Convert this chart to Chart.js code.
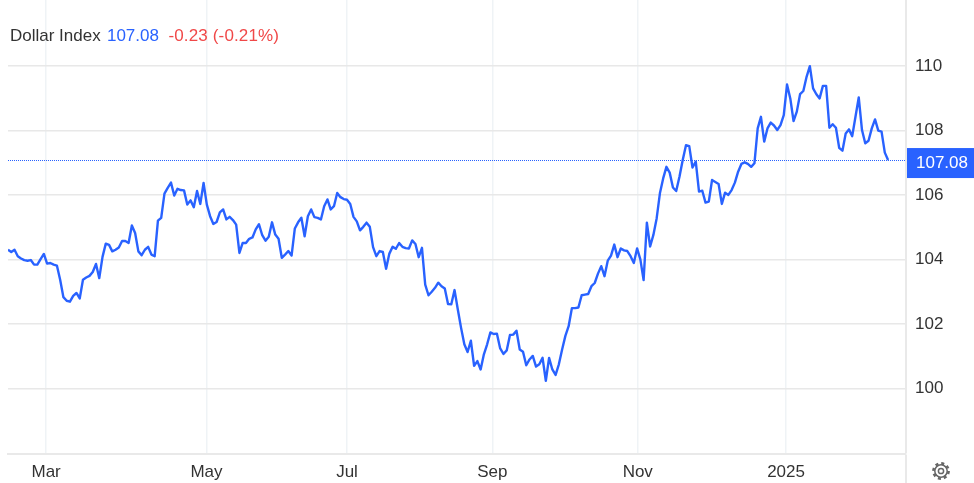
<!DOCTYPE html>
<html lang="en">
  <head>
    <meta charset="utf-8" />
    <title>Dollar Index</title>
    <style>
      * {
        margin: 0;
        padding: 0;
        font-family: "Liberation Sans", sans-serif;
      }
      body {
        background: white;
        overflow: hidden;
      }
      .chartBox {
        position: relative;
        width: 974px;
        height: 483px;
      }
      .header {
        position: absolute;
        left: 10px;
        top: 26px;
        font-size: 17px;
        line-height: 20px;
        white-space: pre;
        color: #333;
      }
      .last {
        color: #2962ff;
        margin-left: 1.5px;
      }
      .change {
        color: #f04848;
        letter-spacing: 0.15px;
      }
      .gear {
        position: absolute;
        left: 931px;
        top: 461px;
      }
    </style>
  </head>
  <body>
    <div class="chartBox">
      <canvas id="myChart" width="974" height="483"></canvas>
      <div class="header">Dollar Index <span class="last">107.08</span>  <span class="change">-0.23 (-0.21%)</span></div>
      <svg class="gear" width="20" height="20" viewBox="0 0 20 20" fill="none" stroke="#666">
        <circle cx="10" cy="10" r="6.2" stroke-width="1.5" />
        <circle cx="10" cy="10" r="7.6" stroke-width="2.6" stroke-dasharray="3 2.97" />
        <circle cx="10" cy="10" r="2.6" stroke-width="1.5" />
      </svg>
    </div>

    <script src="https://cdn.jsdelivr.net/npm/chart.js"></script>

    <script>
      // one value per trading day
      const dollarIndex = [
        104.30, 104.23, 104.30, 104.10, 104.03, 103.98, 103.96, 103.98, 103.84, 103.84,
        104.01, 104.17, 103.87, 103.89, 103.84, 103.81, 103.37, 102.83, 102.72, 102.69,
        102.87, 102.96, 102.79, 103.37, 103.44, 103.49, 103.61, 103.86, 103.42, 104.08,
        104.49, 104.45, 104.25, 104.30, 104.37, 104.57, 104.57, 104.51, 105.05, 104.82,
        104.25, 104.13, 104.30, 104.39, 104.15, 104.10, 105.20, 105.29, 106.04, 106.22,
        106.38, 105.98, 106.19, 106.15, 106.14, 105.70, 105.83, 105.62, 106.12, 105.72,
        106.37, 105.70, 105.34, 105.10, 105.16, 105.46, 105.55, 105.24, 105.32, 105.22,
        105.08, 104.20, 104.51, 104.51, 104.64, 104.68, 104.93, 105.09, 104.75, 104.58,
        104.70, 105.15, 104.77, 104.64, 104.05, 104.15, 104.26, 104.12, 104.96, 105.15,
        105.29, 104.72, 105.34, 105.55, 105.31, 105.29, 105.24, 105.65, 105.86, 105.55,
        105.65, 106.06, 105.93, 105.87, 105.85, 105.72, 105.32, 105.18, 104.90, 105.01,
        105.14, 105.01, 104.38, 104.10, 104.26, 104.23, 103.71, 104.18, 104.39, 104.33,
        104.51, 104.39, 104.35, 104.34, 104.59, 104.48, 104.07, 104.36, 103.22, 102.89,
        103.00, 103.12, 103.28, 103.17, 103.10, 102.62, 102.61, 103.05, 102.45, 101.88,
        101.37, 101.13, 101.48, 100.70, 100.85, 100.59, 101.06, 101.37, 101.74, 101.69,
        101.70, 101.24, 101.07, 101.18, 101.66, 101.67, 101.79, 101.21, 101.14, 100.72,
        100.90, 101.01, 100.68, 100.75, 100.95, 100.24, 100.95, 100.59, 100.42, 100.75,
        101.21, 101.63, 101.93, 102.49, 102.49, 102.51, 102.89, 102.91, 102.93, 103.17,
        103.27, 103.56, 103.79, 103.48, 103.96, 104.12, 104.46, 104.07, 104.34, 104.28,
        104.26, 104.10, 103.89, 104.34, 104.00, 103.36, 105.14, 104.40, 104.76, 105.27,
        106.05, 106.51, 106.87, 106.69, 106.23, 106.12, 106.56, 107.08, 107.54, 107.51,
        106.85, 107.03, 106.10, 106.13, 105.76, 105.79, 106.46, 106.40, 106.34, 105.72,
        106.07, 106.00, 106.15, 106.38, 106.72, 106.96, 107.01, 106.96, 106.87, 106.98,
        108.06, 108.42, 107.65, 108.06, 108.24, 108.15, 108.01, 108.16, 108.47, 109.42,
        108.99, 108.29, 108.58, 109.12, 109.22, 109.66, 109.99, 109.30, 109.12, 108.99,
        109.38, 109.38, 108.08, 108.19, 108.08, 107.46, 107.37, 107.90, 108.03, 107.82,
        108.42, 109.02, 108.01, 107.60, 107.68, 108.06, 108.34, 107.99, 107.96, 107.31,
        107.08,
      ];
      const lastValue = 107.08;
      const yTicks = [100, 102, 104, 106, 108, 110];
      const monthLabels = ["Mar", "May", "Jul", "Sep", "Nov", "2025"];
      // where each label falls, counted in trading days from the first point
      const monthPositions = [11.7, 60.9, 104, 148.6, 193.2, 238.7];

      const blue = "#2962ff";

      // dotted last price line and the tag on the axis
      const lastPriceTag = {
        id: "lastPriceTag",
        afterDatasetsDraw(chart) {
          const {
            ctx,
            chartArea: { left, right, bottom },
            scales: { y },
          } = chart;
          const yCoor = y.getPixelForValue(lastValue);
          ctx.save();
          // axis line runs on past the x axis
          ctx.fillStyle = "#e9e9e9";
          ctx.fillRect(right - 1, 0, 2, bottom - 1);
          ctx.fillRect(right - 1, bottom + 1, 2, chart.height - bottom);
          ctx.strokeStyle = blue;
          ctx.lineWidth = 1;
          ctx.setLineDash([1, 1]);
          ctx.beginPath();
          ctx.moveTo(left, Math.round(yCoor) + 0.5);
          ctx.lineTo(right, Math.round(yCoor) + 0.5);
          ctx.stroke();
          ctx.fillStyle = blue;
          ctx.fillRect(right + 1, yCoor - 12, chart.width - right, 30);
          ctx.fillStyle = "white";
          ctx.font = '17px "Liberation Sans"';
          ctx.textBaseline = "middle";
          ctx.fillText(lastValue.toFixed(2), right + 10, yCoor + 3.5);
          ctx.restore();
        },
      };

      // no room kept around the plot for half tick labels
      function noScalePadding(scale) {
        scale.paddingTop = 0;
        scale.paddingBottom = 0;
        scale.paddingLeft = 0;
        scale.paddingRight = 0;
      }

      const config = {
        type: "line",
        data: {
          datasets: [
            {
              data: dollarIndex.map((v, i) => ({ x: i, y: v })),
              borderColor: blue,
              borderWidth: 2.4,
              borderJoinStyle: "round",
              pointRadius: 0,
              tension: 0,
            },
          ],
        },
        options: {
          responsive: false,
          animation: false,
          events: [],
          layout: { autoPadding: false, padding: { left: 8 } },
          plugins: {
            legend: { display: false },
            title: { display: false },
            tooltip: { enabled: false },
          },
          scales: {
            x: {
              type: "linear",
              min: 0,
              max: 275.5,
              afterBuildTicks: (scale) => {
                scale.ticks = monthPositions.map((value) => ({ value }));
              },
              afterFit: (scale) => {
                scale.height = 29;
                noScalePadding(scale);
              },
              grid: { color: "#eff3f6", lineWidth: 1.5, drawTicks: false },
              border: { color: "#e9e9e9", width: 2 },
              ticks: {
                autoSkip: false,
                maxRotation: 0,
                padding: 8,
                color: "#333",
                font: { family: "Liberation Sans", size: 17 },
                callback: (value) => monthLabels[monthPositions.indexOf(value)],
              },
            },
            y: {
              position: "right",
              min: 97.97,
              max: 112.04,
              afterBuildTicks: (scale) => {
                scale.ticks = yTicks.map((value) => ({ value }));
              },
              afterFit: (scale) => {
                scale.width = 68;
                noScalePadding(scale);
              },
              grid: { color: "#e8e8e8", lineWidth: 1.5, drawTicks: false },
              border: { display: false },
              ticks: {
                padding: 9,
                color: "#333",
                font: { family: "Liberation Sans", size: 17 },
              },
            },
          },
        },
        plugins: [lastPriceTag],
      };

      const myChart = new Chart(document.getElementById("myChart"), config);
    </script>
  </body>
</html>
